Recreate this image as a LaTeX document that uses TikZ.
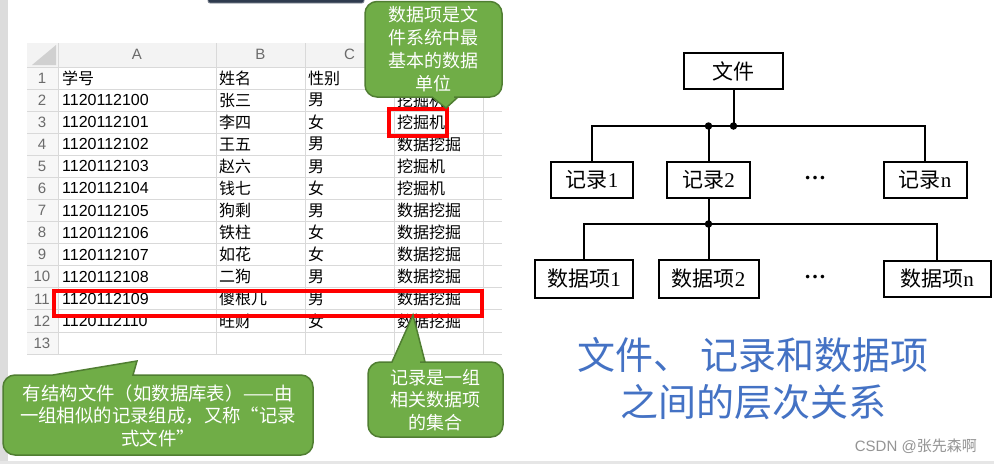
\documentclass[tikz,border=0pt]{standalone}
\usepackage{fontspec}
\setmainfont{Liberation Sans}
\newfontfamily\cjkf{Noto Sans CJK SC}
\newfontfamily\tmsf{Liberation Serif}
\definecolor{callgreen}{HTML}{70AD47}
\definecolor{callborder}{HTML}{507E32}
\definecolor{gridc}{HTML}{D9D9D9}
\definecolor{hdrbg}{HTML}{F3F3F3}
\definecolor{numbg}{HTML}{F7F7F7}
\definecolor{titleblue}{HTML}{4472C4}
\definecolor{darkbar}{HTML}{2E3B4E}
\definecolor{leftbar}{HTML}{DCDCDC}
\definecolor{bottombar}{HTML}{E6E6E6}
\definecolor{cornertri}{HTML}{D0D0D0}
\newcommand\tdig[1]{{\tmsf #1}}
\begin{document}
\begin{tikzpicture}[x=1pt,y=-1pt,
  cell/.style={anchor=west, inner sep=0pt, font=\fontsize{16}{16}\selectfont},
  ccell/.style={anchor=west, inner sep=0pt, font=\cjkf\fontsize{16}{16}\selectfont},
  rownum/.style={inner sep=0pt, text=black!58, font=\fontsize{15}{15}\selectfont},
  gridline/.style={draw=gridc, line width=0.8pt},
  treebox/.style={draw, line width=2pt, inner sep=0pt, minimum height=36pt, font=\cjkf\fontsize{21}{21}\selectfont},
  conn/.style={line width=2pt},
  junction/.style={circle, fill, inner sep=0pt, minimum size=7.5pt},
  ellip/.style={inner sep=0pt, font=\tmsf\bfseries\fontsize{22}{22}\selectfont},
  calloutshape/.style={fill=callgreen, draw=callborder, line width=1.5pt, rounded corners=12pt},
  calltext/.style={text=white, align=center, inner sep=0pt, font=\cjkf\fontsize{18}{22.8}\selectfont},
  hilite/.style={draw=red, line width=3.2pt},
  title/.style={text=titleblue, inner sep=0pt, font=\cjkf\fontsize{38}{38}\selectfont}
]
\useasboundingbox (0,0) rectangle (994,464);
\fill[white] (0,0) rectangle (994,464);
% frame bits
\fill[leftbar] (0,0) rectangle (8,464);
\fill[bottombar] (0,461) rectangle (994,464);
\filldraw[fill=darkbar, draw=darkbar!60, line width=0.8pt, rounded corners=2pt] (208,-5) rectangle (364,3);

% spreadsheet backgrounds
\fill[hdrbg] (27,43) rectangle (502,67);
\fill[numbg] (27,67) rectangle (58,354);
\fill[cornertri] (32,65) -- (56,65) -- (56,45) -- cycle;
% grid
\foreach \k in {0,...,13} {
  \pgfmathsetmacro\yy{67+22.08*\k}
  \draw[gridline] (27,\yy) -- (502,\yy);
}
\foreach \xx in {58,216,305,394,483} {
  \draw[gridline] (\xx,43) -- (\xx,354);
}
% column letters
\node[rownum] (colA) at (137,54) {A};
\node[rownum] (colB) at (260.5,54) {B};
\node[rownum] (colC) at (349.5,54) {C};
% row numbers
\foreach \r in {1,...,13} {
  \pgfmathsetmacro\yc{67+22.08*(\r-0.5)}
  \node[rownum] (rn\r) at (42,\yc) {\r};
}
% row 1
\node[ccell] (h1) at (62,78) {学号};
\node[ccell] (h2) at (219,78) {姓名};
\node[ccell] (h3) at (308,78) {性别};
% data rows
\foreach \r/\id/\nm/\sx/\jb in {2/1120112100/张三/男/挖掘机, 3/1120112101/李四/女/挖掘机, 4/1120112102/王五/男/数据挖掘, 5/1120112103/赵六/男/挖掘机, 6/1120112104/钱七/女/挖掘机, 7/1120112105/狗剩/男/数据挖掘, 8/1120112106/铁柱/女/数据挖掘, 9/1120112107/如花/女/数据挖掘, 10/1120112108/二狗/男/数据挖掘, 11/1120112109/傻根儿/男/数据挖掘, 12/1120112110/旺财/女/数据挖掘} {
  \pgfmathsetmacro\yc{67+22.08*(\r-0.5)}
  \node[cell] (id\r) at (62,\yc) {\id};
  \node[ccell] (nm\r) at (219,\yc) {\nm};
  \node[ccell] (sx\r) at (308,\yc) {\sx};
  \node[ccell] (jb\r) at (397,\yc) {\jb};
}
% highlights
\draw[hilite] (389,109) rectangle (447,136);
\draw[hilite] (54,291) rectangle (482,316);

% callouts
\path[calloutshape] (433,1.5) -- (502,1.5) -- (502,97) -- (466,97) [sharp corners] -- (458,97) -- (446,108) -- (432,97) -- (424,97) [rounded corners=12pt] -- (365,97) -- (365,1.5) -- cycle;
\node[calltext] (c1) at (433.5,49) {数据项是文\\件系统中最\\基本的数据\\单位};

\path[calloutshape] (200,455) -- (313,455) -- (313,375) -- (145,375) [sharp corners] -- (133,375) -- (137,361) -- (53,375) -- (45,375) [rounded corners=12pt] -- (3,375) -- (3,455) -- cycle;
\node[calltext, font=\cjkf\fontsize{18.4}{22.5}\selectfont] (c2) at (158,415.5) {有结构文件（如数据库表）——由\\一组相似的记录组成，又称“记录\\式文件”};

\path[calloutshape] (435,437) -- (503,437) -- (503,362) -- (432,362) [sharp corners] -- (425,362) -- (413,315) -- (392,362) -- (385,362) [rounded corners=12pt] -- (368,362) -- (368,437) -- cycle;
\node[calltext] (c3) at (435.5,400) {记录是一组\\相关数据项\\的集合};

% tree
\node[treebox, minimum width=99pt] (file) at (733.5,71) {文件};
\node[treebox, minimum width=82pt] (r1) at (592,180) {记录\tdig{1}};
\node[treebox, minimum width=83pt] (r2) at (708.5,180) {记录\tdig{2}};
\node[treebox, minimum width=83pt] (rn) at (925,180) {记录\tdig{n}};
\node[ellip] (rdots) at (815,178) {…};
\node[treebox, minimum width=98pt, minimum height=38pt] (d1) at (584,279) {数据项\tdig{1}};
\node[treebox, minimum width=100pt, minimum height=38pt] (d2) at (708.5,279) {数据项\tdig{2}};
\node[treebox, minimum width=107pt] (dn) at (937,279) {数据项\tdig{n}};
\node[ellip] (ddots) at (815,277) {…};

\coordinate (b0) at (733.5,126);
\coordinate (b1) at (708.5,224);
\draw[conn] (file.south) -- (b0);
\draw[conn] (r1.north) |- (b0) -| (rn.north);
\draw[conn] (r2.north) -- (r2.north |- b0);
\node[junction] (j0) at (b0) {};
\node[junction] (j1) at (r2.north |- b0) {};
\draw[conn] (r2.south) -- (b1);
\draw[conn] (d1.north) |- (b1) -| (dn.north);
\draw[conn] (d2.north) -- (b1);
\node[junction] (j2) at (b1) {};

% title
\node[title] (t1) at (753,355) {文件、 记录和数据项};
\node[title] (t2) at (753,402) {之间的层次关系};
% watermark
\node[anchor=east, inner sep=0pt, text=black!42, font=\fontsize{15}{15}\selectfont] (wm) at (977,446) {CSDN @{\cjkf 张先森啊}};
\end{tikzpicture}
\end{document}
